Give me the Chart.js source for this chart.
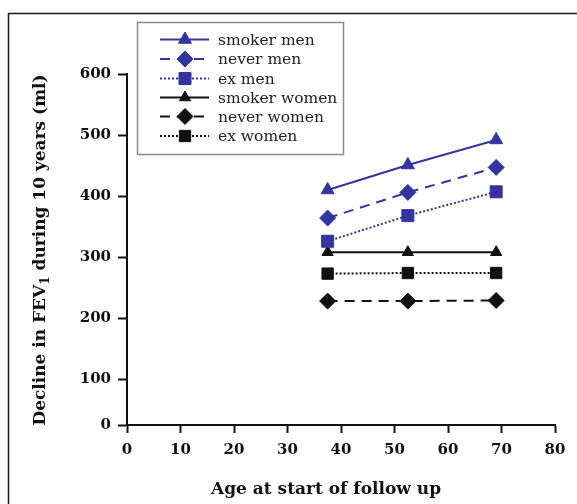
<!DOCTYPE html>
<html>
<head>
<meta charset="utf-8">
<script src="https://cdn.jsdelivr.net/npm/chart.js@4.4.1/dist/chart.umd.min.js"></script>
<style>
  html, body { margin: 0; padding: 0; background: #fff; }
  #wrap { position: relative; width: 577px; height: 504px; }
</style>
</head>
<body>
<div id="wrap"><canvas id="chart" width="577" height="504"></canvas></div>
<script>
// age at start of follow up (years)
const AGES = [37.5, 52.5, 69];

// decline in FEV1 over 10 years (ml)
const SMOKER_MEN = [410, 451, 492];
const NEVER_MEN = [364, 406, 447];
const EX_MEN = [326, 368, 407];
const SMOKER_WOMEN = [308, 308, 308];
const NEVER_WOMEN = [228, 228, 229];
const EX_WOMEN = [273, 274, 274];

const X_TICKS = [0, 10, 20, 30, 40, 50, 60, 70, 80];
const Y_TICKS = [0, 100, 200, 300, 400, 500, 600];
// the y axis is cut short under 100; its floor carries the "0" label
const Y_FLOOR = 25;

const BLUE = "#34349e";
const BLACK = "#111111";
const SERIF = "'DejaVu Serif', 'Liberation Serif', serif";

function series(label, values, color, style, radius, dash) {
  return {
    label,
    data: AGES.map((a, i) => ({ x: a, y: values[i] })),
    borderColor: color,
    backgroundColor: color,
    borderWidth: 2,
    borderDash: dash || [],
    pointStyle: style,
    pointRadius: radius,
    pointHoverRadius: radius,
    pointBorderWidth: 1,
    pointBorderColor: color,
    pointBackgroundColor: color,
    tension: 0,
    fill: false,
  };
}

const datasets = [
  series("smoker men", SMOKER_MEN, BLUE, "triangle", 7.5),
  series("never men", NEVER_MEN, BLUE, "rectRot", 8, [10, 7]),
  series("ex men", EX_MEN, BLUE, "rect", 8.5, [2, 2]),
  series("smoker women", SMOKER_WOMEN, BLACK, "triangle", 6.5),
  series("never women", NEVER_WOMEN, BLACK, "rectRot", 8, [10, 7]),
  series("ex women", EX_WOMEN, BLACK, "rect", 8, [2, 2]),
];

// outer frame, legend box and axis titles
const decorations = {
  id: "decorations",
  beforeDraw(chart) {
    const ctx = chart.ctx;
    ctx.save();
    ctx.strokeStyle = "#1a1a1a";
    ctx.lineWidth = 1.5;
    ctx.beginPath();
    ctx.moveTo(8.5, 504);
    ctx.lineTo(8.5, 13.5);
    ctx.lineTo(577, 13.5);
    ctx.stroke();
    ctx.restore();
  },
  afterDraw(chart) {
    const ctx = chart.ctx;
    ctx.save();

    // legend
    ctx.strokeStyle = "#8a8a8a";
    ctx.lineWidth = 1.5;
    ctx.strokeRect(137.5, 22.5, 206, 132);
    const rowY = [39.5, 59, 78.5, 97.5, 116.5, 136];
    ctx.font = "15.5px " + SERIF;
    ctx.textBaseline = "middle";
    ctx.textAlign = "left";
    chart.data.datasets.forEach((ds, i) => {
      const y = rowY[i];
      ctx.save();
      ctx.strokeStyle = ds.borderColor;
      ctx.lineWidth = ds.borderWidth;
      ctx.setLineDash(ds.borderDash);
      ctx.beginPath();
      ctx.moveTo(160, y);
      ctx.lineTo(209, y);
      ctx.stroke();
      ctx.setLineDash([]);
      ctx.fillStyle = ds.pointBackgroundColor;
      ctx.strokeStyle = ds.pointBorderColor;
      ctx.lineWidth = 1;
      Chart.helpers.drawPoint(ctx, {
        pointStyle: ds.pointStyle,
        radius: ds.pointRadius,
        rotation: 0,
        borderWidth: 1,
      }, 185, y);
      ctx.restore();
      ctx.fillStyle = "#222222";
      ctx.fillText(ds.label, 218, y + 1);
    });

    // x title
    ctx.fillStyle = BLACK;
    ctx.font = "bold 17px " + SERIF;
    ctx.textAlign = "center";
    ctx.fillText("Age at start of follow up", 326, 490);

    // y title with subscript
    const big = "bold 17px " + SERIF;
    const small = "bold 12px " + SERIF;
    const parts = [
      { t: "Decline in FEV", f: big, dy: 0 },
      { t: "1", f: small, dy: 5 },
      { t: " during 10 years (ml)", f: big, dy: 0 },
    ];
    let total = 0;
    parts.forEach((p) => { ctx.font = p.f; p.w = ctx.measureText(p.t).width; total += p.w; });
    ctx.translate(41, 250);
    ctx.rotate(-Math.PI / 2);
    ctx.textAlign = "left";
    let x = -total / 2;
    parts.forEach((p) => {
      ctx.font = p.f;
      ctx.fillText(p.t, x, p.dy);
      x += p.w;
    });
    ctx.restore();
  },
};

new Chart(document.getElementById("chart"), {
  type: "line",
  data: { datasets },
  plugins: [decorations],
  options: {
    responsive: false,
    animation: false,
    devicePixelRatio: 1,
    layout: { padding: { top: 74, right: 22, left: 0, bottom: 0 } },
    plugins: {
      legend: { display: false },
      tooltip: { enabled: false },
    },
    scales: {
      x: {
        type: "linear",
        min: X_TICKS[0],
        max: X_TICKS[X_TICKS.length - 1],
        afterFit(scale) { scale.height = 79; },
        afterBuildTicks(scale) { scale.ticks = X_TICKS.map((v) => ({ value: v })); },
        border: { display: true, color: BLACK, width: 2 },
        grid: {
          drawOnChartArea: false,
          drawTicks: true,
          tickLength: 8,
          tickWidth: 2,
          tickColor: BLACK,
        },
        ticks: {
          color: BLACK,
          padding: 8,
          maxRotation: 0,
          font: { family: SERIF, size: 15, weight: "bold" },
        },
      },
      y: {
        type: "linear",
        min: Y_FLOOR,
        max: Y_TICKS[Y_TICKS.length - 1],
        afterFit(scale) { scale.width = 127; },
        afterBuildTicks(scale) {
          scale.ticks = Y_TICKS.map((v) => ({ value: v === 0 ? Y_FLOOR : v }));
        },
        border: { display: true, color: BLACK, width: 2 },
        grid: {
          drawOnChartArea: false,
          drawTicks: true,
          tickLength: 9,
          tickWidth: 2,
          tickColor: BLACK,
        },
        ticks: {
          color: BLACK,
          padding: 7,
          font: { family: SERIF, size: 15, weight: "bold" },
          callback(value) { return value === Y_FLOOR ? "0" : String(value); },
        },
      },
    },
  },
});
</script>
</body>
</html>
